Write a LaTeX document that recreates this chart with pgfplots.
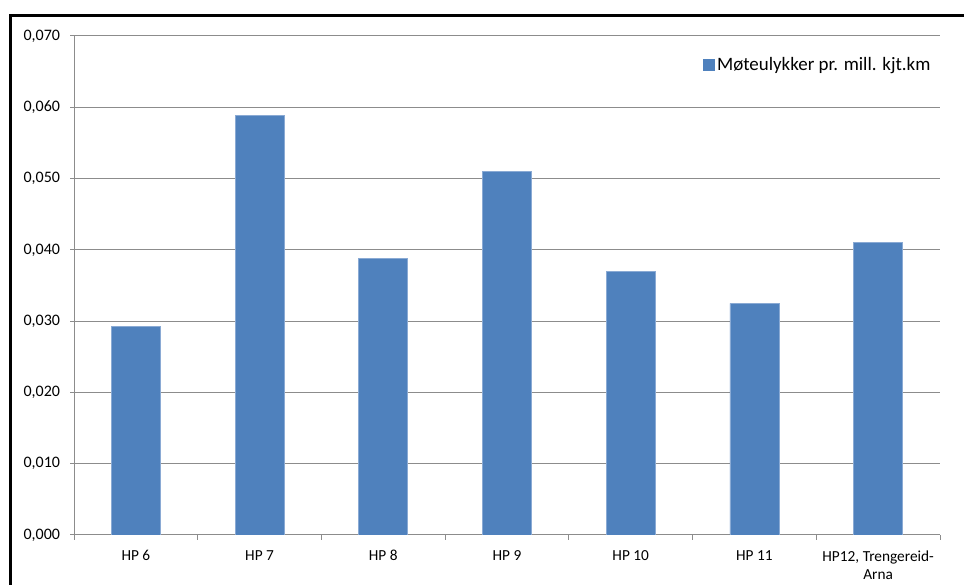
\documentclass[border=0pt]{standalone}
\usepackage{pgfplots}
\pgfplotsset{compat=1.18}
\usepackage{fontspec}
\setmainfont{Carlito}
\definecolor{barblue}{HTML}{4F81BD}
\definecolor{baredge}{HTML}{8AAAD4}
\definecolor{gridgray}{HTML}{8C8C8C}
\begin{document}
\begin{tikzpicture}
\path[use as bounding box] (0,0) rectangle (723pt,438.75pt);
\draw[black, line width=2.25pt] (7.5pt,-5pt) -- (7.5pt,426.75pt) -- (730pt,426.75pt);
\begin{axis}[
  at={(55.5pt,37.5pt)}, anchor=south west,
  scale only axis, width=649.5pt, height=374.25pt,
  ybar, bar width=36.75pt,
  xmin=0.5, xmax=7.5, ymin=0, ymax=0.07,
  xtick={1,2,3,4,5,6,7},
  xticklabels={HP 6, HP 7, HP 8, HP 9, HP 10, HP 11, {HP12, Trengereid-\\Arna}},
  xticklabel style={align=center, font=\fontsize{11.5}{13.5}\selectfont, yshift=-5pt},
  minor xtick={0.5,1.5,2.5,3.5,4.5,5.5,6.5,7.5},
  ytick={0,0.01,0.02,0.03,0.04,0.05,0.06,0.07},
  scaled y ticks=false,
  y tick label style={font=\fontsize{12}{14}\selectfont, xshift=-4pt,
    /pgf/number format/fixed, /pgf/number format/fixed zerofill,
    /pgf/number format/precision=3, /pgf/number format/use comma,
    /pgf/number format/assume math mode=true},
  axis x line*=bottom, axis y line*=left,
  axis line style={gridgray, line width=0.75pt, -},
  tick align=outside,
  major tick length=3pt, minor tick length=3.5pt,
  major x tick style={draw=none},
  every tick/.style={gridgray, line width=0.75pt},
  ymajorgrids, grid style={gridgray, line width=0.75pt},
  legend style={draw=none, fill=none, at={(1,1)}, anchor=north east, xshift=-2pt, yshift=-12pt,
    font=\fontsize{14.2}{16}\selectfont},
  legend image code/.code={\fill[barblue] (0pt,-4.1pt) rectangle (8.25pt,4.1pt);},
]
\addplot[fill=barblue, draw=baredge, line width=0.6pt] coordinates {
  (1,0.0293) (2,0.0589) (3,0.0388) (4,0.0510) (5,0.0370) (6,0.0325) (7,0.0411)
};
\addlegendentry{Møteulykker pr. mill. kjt.km}
\end{axis}
\end{tikzpicture}
\end{document}
